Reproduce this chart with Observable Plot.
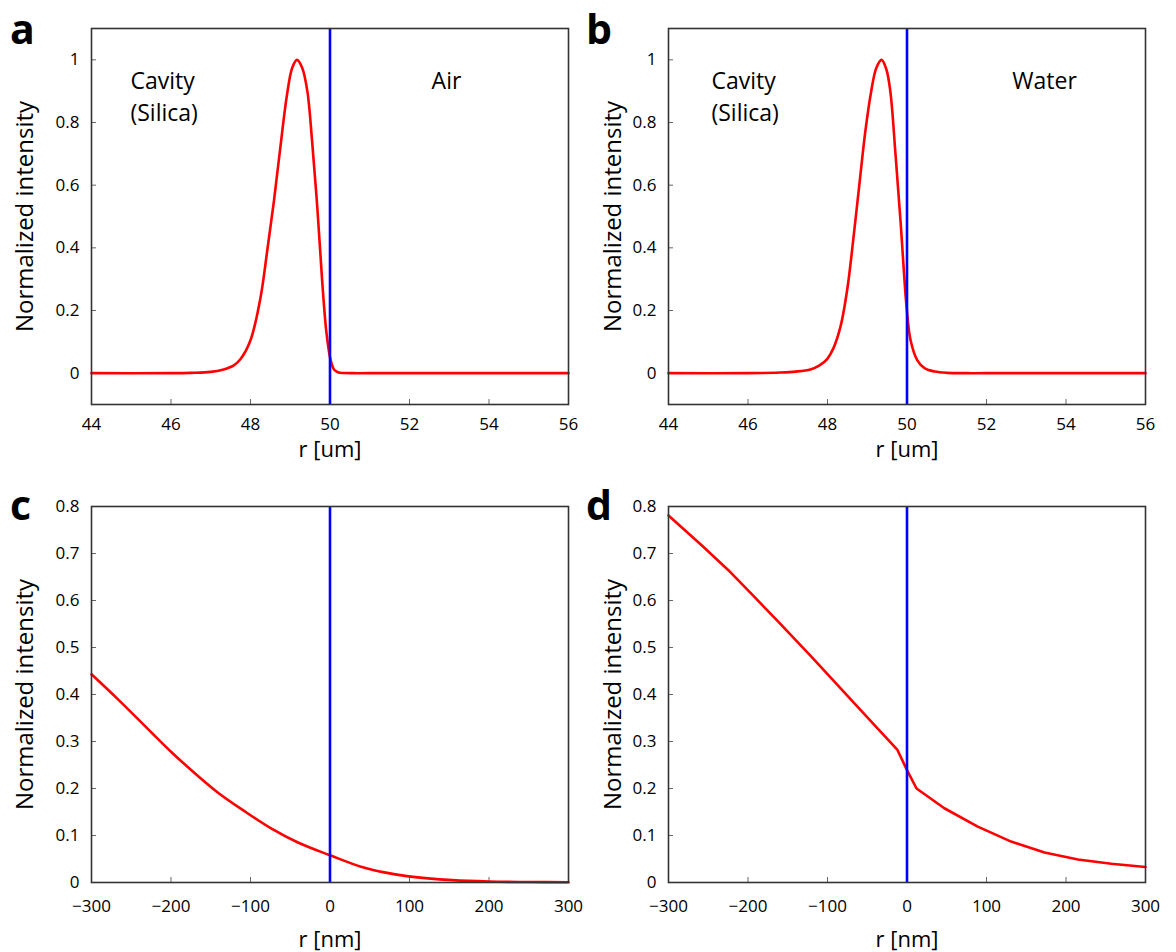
<!DOCTYPE html>
<html>
<head>
<meta charset="utf-8">
<script src="https://cdn.jsdelivr.net/npm/d3@7"></script>
<script src="https://cdn.jsdelivr.net/npm/@observablehq/plot@0.6"></script>
<style>
  html, body { margin: 0; padding: 0; background: #fff; }
  #wrap { position: relative; width: 1176px; height: 952px; font-family: "Open Sans", sans-serif; }
  .panel { position: absolute; }
  .letter { position: absolute; font-size: 41px; font-weight: 700; line-height: normal; color: #000; }
</style>
</head>
<body>
<div id="wrap"></div>
<script>
// ---- data ----
const aR = [44, 46.0, 46.5, 47.0, 47.3, 47.58, 47.75, 48.0, 48.25, 48.42, 48.59, 48.75, 48.92, 49.05, 49.17, 49.3, 49.43, 49.55, 49.68, 49.8, 49.91, 50.01, 50.1, 50.2, 50.35, 50.6, 51.0, 56];
const aI = [0, 0, 0.001, 0.004, 0.011, 0.025, 0.045, 0.105, 0.24, 0.39, 0.55, 0.72, 0.89, 0.975, 1.0, 0.975, 0.90, 0.74, 0.53, 0.30, 0.13, 0.045, 0.012, 0.003, 0.0005, 0, 0, 0];

const bR = [44, 46.0, 46.8, 47.2, 47.57, 47.8, 47.99, 48.15, 48.33, 48.5, 48.66, 48.8, 48.95, 49.1, 49.23, 49.36, 49.48, 49.58, 49.71, 49.84, 49.99, 50.09, 50.26, 50.45, 50.7, 51.0, 51.5, 52.0, 56];
const bI = [0, 0, 0.002, 0.005, 0.012, 0.025, 0.045, 0.08, 0.15, 0.27, 0.44, 0.6, 0.77, 0.9, 0.975, 1.0, 0.97, 0.90, 0.70, 0.48, 0.21, 0.105, 0.041, 0.015, 0.005, 0.001, 0, 0, 0];

const cR = [-300, -265, -224, -198, -169, -140, -106, -73, -39, 0, 40, 70, 99, 154, 200, 250, 300];
const cI = [0.443, 0.387, 0.318, 0.275, 0.231, 0.19, 0.15, 0.114, 0.084, 0.058, 0.033, 0.021, 0.013, 0.005, 0.002, 0.001, 0.0005];

const dR = [-300, -258, -225, -195, -162, -120, -78, -40, -12, 0, 12, 47, 89, 131, 173, 215, 257, 300];
const dI = [0.781, 0.717, 0.665, 0.613, 0.555, 0.480, 0.403, 0.333, 0.282, 0.239, 0.200, 0.158, 0.119, 0.087, 0.064, 0.049, 0.040, 0.033];

const umTicks = [44, 46, 48, 50, 52, 54, 56];
const nmTicks = [-300, -200, -100, 0, 100, 200, 300];
const topYTicks = [0, 0.2, 0.4, 0.6, 0.8, 1];
const botYTicks = [0, 0.1, 0.2, 0.3, 0.4, 0.5, 0.6, 0.7, 0.8];

const letters = ["a", "b", "c", "d"];
const yTitle = "Normalized intensity";
const umTitle = "r [um]";
const nmTitle = "r [nm]";
const interfaceUm = [50];
const interfaceNm = [0];
const notesA = [{r: 44.98, v: 0.89, t: "Cavity\n(Silica)", anchor: "start"}, {r: 52.93, v: 0.94, t: "Air", anchor: "middle"}];
const notesB = [{r: 45.08, v: 0.89, t: "Cavity\n(Silica)", anchor: "start"}, {r: 53.46, v: 0.94, t: "Water", anchor: "middle"}];

// ---- drawing ----
const W = 588, H = 476;
const wrap = document.getElementById("wrap");

function panel(o) {
  const ml = o.col === 0 ? 91 : 80;
  const mr = o.col === 0 ? 20 : 31;
  const mt = o.row === 0 ? 28 : 30;
  const mb = o.row === 0 ? 72 : 70;
  const fw = W - ml - mr, fh = H - mt - mb;
  const data = o.r.map((r, i) => ({r, v: o.I[i]}));
  const marks = [
    Plot.tickX(o.xTicks, {x: d => d, insetTop: fh - 5, stroke: "#666", strokeWidth: 1}),
    Plot.tickY(o.yTicks, {y: d => d, insetRight: fw - 5, stroke: "#666", strokeWidth: 1}),
    Plot.line(data, {x: "r", y: "v", stroke: "#ff0000", strokeWidth: 2.6, curve: o.curve}),
    Plot.ruleX(o.divide, {stroke: "#0000ff", strokeWidth: 2.6}),
    Plot.frame({stroke: "#333", strokeWidth: 1.6}),
    Plot.axisX(o.xTicks, {tickSize: 0, tickPadding: o.row === 0 ? 13 : 17, tickFormat: o.xFmt, label: null, fontSize: 17}),
    Plot.axisY(o.yTicks, {tickSize: 0, tickPadding: 12, tickFormat: d => String(d), label: null, fontSize: 17}),
    Plot.text([o.xLabel], {frameAnchor: "bottom", dy: o.row === 0 ? 45 : 57, text: d => d, fontSize: 22, lineAnchor: "middle", textAnchor: "middle"}),
    Plot.text([yTitle], {frameAnchor: "left", dx: -(ml - 25), rotate: -90, text: d => d, fontSize: 24, lineAnchor: "middle", textAnchor: "middle"})
  ];
  if (o.notes) {
    for (const n of o.notes) {
      marks.push(Plot.text([n], {x: "r", y: "v", text: "t", textAnchor: n.anchor, fontSize: 23, lineHeight: 1.4, lineAnchor: "middle"}));
    }
  }
  const svg = Plot.plot({
    width: W, height: H,
    marginLeft: ml, marginRight: mr, marginTop: mt, marginBottom: mb,
    style: {fontFamily: "'Open Sans', sans-serif", fontSize: "17px", color: "#000", background: "#fff"},
    x: {domain: o.xDomain, axis: null},
    y: {domain: o.yDomain, axis: null},
    marks
  });
  const div = document.createElement("div");
  div.className = "panel";
  div.style.left = (o.col * W) + "px";
  div.style.top = (o.row * H) + "px";
  div.appendChild(svg);
  wrap.appendChild(div);
  const L = document.createElement("div");
  L.className = "letter";
  L.textContent = o.letter;
  L.style.left = (o.col === 0 ? 10 : 586) + "px";
  L.style.top = (o.row * H + (o.row === 0 ? 0 : 0)) + "px";
  wrap.appendChild(L);
}

const fmtInt = d3.format("d");
panel({row: 0, col: 0, letter: letters[0], r: aR, I: aI, xDomain: [44, 56], yDomain: [-0.1, 1.1], xTicks: umTicks, yTicks: topYTicks, xFmt: fmtInt, curve: "catmull-rom", divide: interfaceUm, xLabel: umTitle, notes: notesA});
panel({row: 0, col: 1, letter: letters[1], r: bR, I: bI, xDomain: [44, 56], yDomain: [-0.1, 1.1], xTicks: umTicks, yTicks: topYTicks, xFmt: fmtInt, curve: "catmull-rom", divide: interfaceUm, xLabel: umTitle, notes: notesB});
panel({row: 1, col: 0, letter: letters[2], r: cR, I: cI, xDomain: [-300, 300], yDomain: [0, 0.8], xTicks: nmTicks, yTicks: botYTicks, xFmt: fmtInt, curve: "catmull-rom", divide: interfaceNm, xLabel: nmTitle});
panel({row: 1, col: 1, letter: letters[3], r: dR, I: dI, xDomain: [-300, 300], yDomain: [0, 0.8], xTicks: nmTicks, yTicks: botYTicks, xFmt: fmtInt, curve: "linear", divide: interfaceNm, xLabel: nmTitle});
</script>
</body>
</html>
